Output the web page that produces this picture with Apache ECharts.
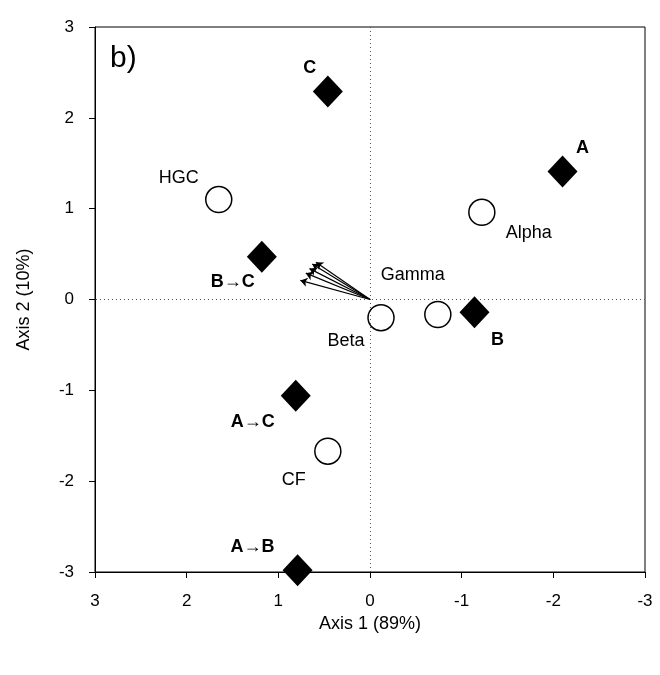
<!DOCTYPE html>
<html>
<head>
<meta charset="utf-8">
<script src="https://cdn.jsdelivr.net/npm/echarts@6/dist/echarts.min.js"></script>
<style>
  html, body { margin: 0; padding: 0; background: #fff; }
  #chart { width: 660px; height: 675px; }
</style>
</head>
<body>
<div id="chart"></div>
<script>
// group centroids (diamonds)
const groupNames = ['C', 'A', 'B\u2192C', 'B', 'A\u2192C', 'A\u2192B'];
const groupX = [0.46, -2.1, 1.18, -1.14, 0.81, 0.79];
const groupY = [2.29, 1.41, 0.47, -0.14, -1.06, -2.98];

// environmental variables (circles)
const varNames = ['HGC', 'Alpha', 'Gamma', 'Beta', 'CF'];
const varX = [1.65, -1.22, -0.74, -0.12, 0.46];
const varY = [1.10, 0.96, -0.165, -0.20, -1.67];

// species vectors (arrow tips from origin)
const arrowX = [0.59, 0.63, 0.66, 0.70, 0.76];
const arrowY = [0.41, 0.39, 0.34, 0.29, 0.21];

// label offsets in px, relative to the marker
const labelOffsets = {
    'C': [-18, -23], 'A': [20, -23], 'B\u2192C': [-29, 25], 'B': [23, 28],
    'A\u2192C': [-43, 26], 'A\u2192B': [-45, -23],
    'HGC': [-40, -22], 'Alpha': [47, 21], 'Gamma': [-25, -39], 'Beta': [-35, 23], 'CF': [-34, 29]
};

const chart = echarts.init(document.getElementById('chart'));

function pointData(names, xs, ys) {
    return names.map(function (n, i) {
        return {
            name: n,
            value: [xs[i], ys[i]],
            label: { offset: labelOffsets[n] }
        };
    });
}

const font = 'Arial, "Liberation Sans", sans-serif';

chart.setOption({
    animation: false,
    grid: {
        left: 95, right: 15, top: 27, bottom: 103,
        show: true, borderColor: '#000', borderWidth: 1
    },
    xAxis: {
        type: 'value', inverse: true, min: -3, max: 3, interval: 1,
        name: 'Axis 1 (89%)', nameLocation: 'middle', nameGap: 41,
        nameTextStyle: { fontSize: 18, color: '#000', fontFamily: font },
        axisLine: { onZero: false, lineStyle: { color: '#000', width: 1 } },
        axisTick: { inside: false, length: 6, lineStyle: { color: '#000' } },
        axisLabel: { fontSize: 17, color: '#000', fontFamily: font, margin: 21 },
        splitLine: { show: false }
    },
    yAxis: {
        type: 'value', min: -3, max: 3, interval: 1,
        name: 'Axis 2 (10%)', nameLocation: 'middle', nameGap: 62, nameRotate: 90,
        nameTextStyle: { fontSize: 18, color: '#000', fontFamily: font },
        axisLine: { onZero: false, lineStyle: { color: '#000', width: 1 } },
        axisTick: { inside: false, length: 6, lineStyle: { color: '#000' } },
        axisLabel: { fontSize: 17, color: '#000', fontFamily: font, margin: 21 },
        splitLine: { show: false }
    },
    graphic: [{
        type: 'text', left: 110, top: 44,
        style: { text: 'b)', fontSize: 30, fill: '#000', fontFamily: font }
    }],
    series: [
        {
            type: 'lines',
            coordinateSystem: 'cartesian2d',
            polyline: false,
            symbol: ['none', 'arrow'],
            symbolSize: 7,
            lineStyle: { color: '#000', width: 1.2, opacity: 1 },
            data: arrowX.map(function (x, i) {
                return { coords: [[0, 0], [x, arrowY[i]]] };
            }),
            z: 3,
            markLine: {
                silent: true, symbol: 'none', label: { show: false },
                lineStyle: { color: '#555', type: [1, 3], width: 1 },
                data: [{ xAxis: 0 }, { yAxis: 0 }]
            }
        },
        {
            type: 'scatter',
            symbol: 'circle', symbolSize: 26,
            itemStyle: { color: '#fff', borderColor: '#000', borderWidth: 1.5, opacity: 1 },
            label: {
                show: true, position: 'inside', formatter: '{b}',
                fontSize: 18, color: '#000', fontFamily: font
            },
            data: pointData(varNames, varX, varY),
            z: 4
        },
        {
            type: 'scatter',
            symbol: 'diamond', symbolSize: [30, 32],
            itemStyle: { color: '#000', opacity: 1 },
            label: {
                show: true, position: 'inside', formatter: '{b}',
                fontSize: 18, fontWeight: 'bold', color: '#000', fontFamily: font
            },
            data: pointData(groupNames, groupX, groupY),
            z: 5
        }
    ]
});
</script>
</body>
</html>
